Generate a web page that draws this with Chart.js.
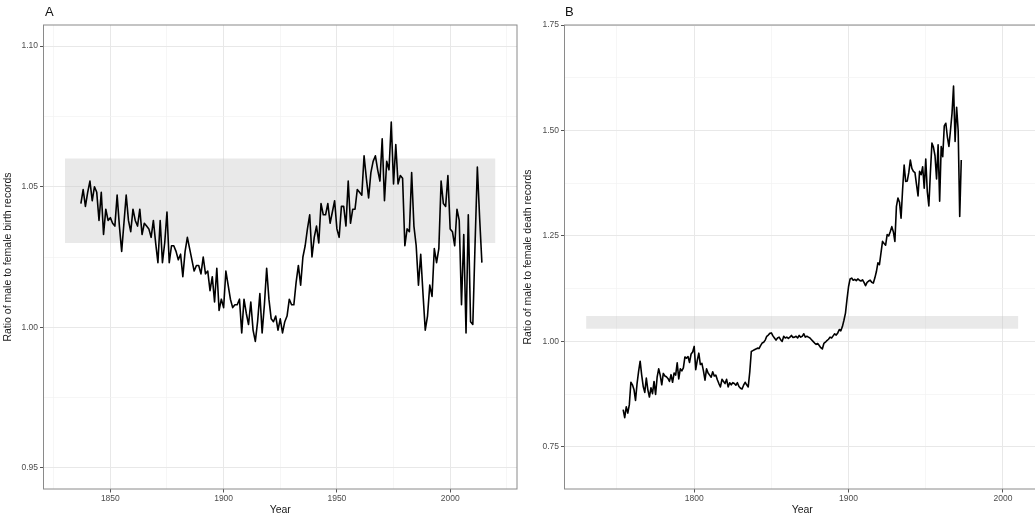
<!DOCTYPE html>
<html>
<head>
<meta charset="utf-8">
<title>Sex ratio of birth and death records</title>
<script src="https://cdn.jsdelivr.net/npm/chart.js@4/dist/chart.umd.min.js"></script>
<style>
  html, body { margin: 0; padding: 0; background: #fff; overflow: hidden; width: 1035px; height: 517px; }
  canvas { position: absolute; top: 0; }
  #birth { left: 0; }
  #death { left: 520px; }
</style>
</head>
<body>
<canvas id="birth" width="520" height="517"></canvas>
<canvas id="death" width="525" height="517"></canvas>
<script>
// ---- Panel A: yearly ratio of male to female birth records, 1837-2014 ----
const birthFirstYear = 1837;
const birthRatios = [
  1.044, 1.049, 1.043, 1.048, 1.052, 1.045, 1.050, 1.048, 1.038, 1.048,
  1.033, 1.042, 1.038, 1.039, 1.037, 1.036, 1.047, 1.036, 1.027, 1.037,
  1.047, 1.038, 1.034, 1.042, 1.038, 1.036, 1.042, 1.033, 1.037, 1.036,
  1.035, 1.032, 1.038, 1.030, 1.023, 1.038, 1.023, 1.030, 1.041, 1.023,
  1.029, 1.029, 1.027, 1.024, 1.026, 1.018, 1.027, 1.032, 1.028, 1.024,
  1.020, 1.022, 1.022, 1.019, 1.025, 1.019, 1.020, 1.013, 1.018, 1.009,
  1.021, 1.006, 1.010, 1.007, 1.020, 1.015, 1.010, 1.007, 1.008, 1.008,
  1.010, 0.998, 1.010, 1.005, 1.001, 1.009, 0.999, 0.995, 1.002, 1.012,
  0.998, 1.008, 1.021, 1.010, 1.003, 1.002, 1.004, 0.999, 1.003, 0.998,
  1.002, 1.004, 1.010, 1.008, 1.008, 1.016, 1.022, 1.015, 1.025, 1.029,
  1.035, 1.040, 1.025, 1.032, 1.036, 1.030, 1.044, 1.040, 1.040, 1.044,
  1.037, 1.041, 1.045, 1.035, 1.032, 1.043, 1.043, 1.036, 1.052, 1.037,
  1.042, 1.042, 1.049, 1.048, 1.047, 1.061, 1.053, 1.046, 1.055, 1.059,
  1.061, 1.056, 1.052, 1.067, 1.045, 1.059, 1.056, 1.073, 1.051, 1.065,
  1.051, 1.054, 1.053, 1.029, 1.035, 1.034, 1.055, 1.036, 1.029, 1.015,
  1.026, 1.012, 0.999, 1.004, 1.015, 1.011, 1.028, 1.023, 1.028, 1.052,
  1.044, 1.043, 1.054, 1.035, 1.034, 1.029, 1.042, 1.038, 1.008, 1.033,
  0.998, 1.040, 1.002, 1.001, 1.030, 1.057, 1.039, 1.023
];
const birthBandYears = [1830, 2020];
const birthBandRatio = [1.03, 1.06];
const birthYMajor = [0.95, 1.00, 1.05, 1.10];
const birthYMinor = [0.975, 1.025, 1.075];
const birthXMajor = [1850, 1900, 1950, 2000];
const birthXMinor = [1825, 1875, 1925, 1975, 2025];

// ---- Panel B: yearly ratio of male to female death records, 1754-1973 ----
const deathFirstYear = 1754;
const deathRatios = [
  0.838, 0.819, 0.845, 0.830, 0.850, 0.903, 0.897, 0.886, 0.860, 0.900,
  0.929, 0.953, 0.920, 0.893, 0.879, 0.913, 0.885, 0.868, 0.890, 0.876,
  0.905, 0.874, 0.915, 0.935, 0.920, 0.897, 0.924, 0.918, 0.916, 0.912,
  0.905, 0.921, 0.903, 0.925, 0.920, 0.949, 0.911, 0.935, 0.930, 0.937,
  0.963, 0.960, 0.964, 0.950, 0.970, 0.975, 0.988, 0.933, 0.955, 0.972,
  0.945, 0.948, 0.930, 0.908, 0.935, 0.925, 0.920, 0.915, 0.928, 0.918,
  0.920, 0.909, 0.900, 0.892, 0.910, 0.905, 0.900, 0.910, 0.892, 0.902,
  0.897, 0.902, 0.900, 0.896, 0.902, 0.893, 0.889, 0.887, 0.896, 0.903,
  0.897, 0.892, 0.927, 0.976, 0.978, 0.980, 0.982, 0.984, 0.983, 0.990,
  0.996, 0.998, 1.003, 1.012, 1.015, 1.019, 1.020, 1.013, 1.008, 1.003,
  1.008, 1.010, 1.004, 1.000, 1.012, 1.008, 1.010, 1.007, 1.010, 1.014,
  1.009, 1.010, 1.012, 1.008, 1.014, 1.010, 1.012, 1.018, 1.010, 1.012,
  1.010, 1.008, 1.004, 1.000, 0.996, 0.993, 0.995, 0.990, 0.985, 0.982,
  0.995, 0.998, 1.002, 1.005, 1.010, 1.008, 1.013, 1.018, 1.015, 1.020,
  1.028, 1.025, 1.035, 1.050, 1.067, 1.100, 1.130, 1.148, 1.150, 1.145,
  1.147, 1.144, 1.148, 1.145, 1.143, 1.146, 1.140, 1.132, 1.140, 1.143,
  1.145, 1.140, 1.138, 1.150, 1.165, 1.186, 1.182, 1.210, 1.237, 1.232,
  1.228, 1.253, 1.250, 1.260, 1.272, 1.260, 1.237, 1.320, 1.340, 1.330,
  1.292, 1.360, 1.418, 1.379, 1.380, 1.400, 1.430, 1.410, 1.403, 1.400,
  1.372, 1.345, 1.403, 1.395, 1.414, 1.363, 1.432, 1.355, 1.321, 1.400,
  1.470, 1.460, 1.440, 1.385, 1.466, 1.332, 1.462, 1.438, 1.511, 1.517,
  1.485, 1.462, 1.500, 1.540, 1.605, 1.474, 1.555, 1.500, 1.296, 1.430
];
const deathBandYears = [1730, 2010];
const deathBandRatio = [1.03, 1.06];
const deathYMajor = [0.75, 1.00, 1.25, 1.50, 1.75];
const deathYMinor = [0.875, 1.125, 1.375, 1.625];
const deathXMajor = [1800, 1900, 2000];
const deathXMinor = [1750, 1850, 1950];

// ---- helpers ----
const FONT = '"Liberation Sans", Arial, Helvetica, sans-serif';

function yearSeries(firstYear, values) {
  return values.map((v, i) => ({ x: firstYear + i, y: v }));
}

function isIn(list, v) {
  return list.some(m => Math.abs(m - v) < 1e-6);
}

// Linear axis with ggplot-like major (labelled) and minor (unlabelled) grid lines
function makeAxis(opts) {
  const { min, max, major, minor, fmt, title, titlePadding, size, tickPad } = opts;
  return {
    type: 'linear',
    min, max,
    afterBuildTicks(scale) {
      scale.ticks = major.concat(minor).sort((a, b) => a - b).map(v => ({ value: v }));
    },
    afterFit(scale) {
      if (scale.isHorizontal()) scale.height = size; else scale.width = size;
    },
    ticks: {
      autoSkip: false,
      maxRotation: 0,
      minRotation: 0,
      padding: tickPad,
      color: '#4d4d4d',
      font: { family: FONT, size: 8.5 },
      callback: (v) => isIn(major, v) ? fmt(v) : ''
    },
    grid: {
      drawOnChartArea: true,
      drawTicks: true,
      tickLength: 3.5,
      color: (c) => isIn(major, c.tick.value) ? '#e8e8e8' : '#f2f2f2',
      lineWidth: (c) => isIn(major, c.tick.value) ? 1 : 0.7,
      tickColor: (c) => isIn(major, c.tick.value) ? '#555555' : 'rgba(0,0,0,0)',
      tickWidth: 1
    },
    border: { display: false },
    title: {
      display: true,
      text: title,
      color: '#1a1a1a',
      font: { family: FONT, size: 10.5 },
      padding: titlePadding
    }
  };
}

// Panel frame and panel tag letter
const panelFrame = {
  id: 'panelFrame',
  afterDraw(chart, args, o) {
    const { ctx, chartArea: a } = chart;
    ctx.save();
    ctx.strokeStyle = '#8a8a8a';
    ctx.lineWidth = 1;
    ctx.strokeRect(a.left, a.top, a.right - a.left, a.bottom - a.top);
    ctx.fillStyle = '#111';
    ctx.font = '13px ' + FONT;
    ctx.textBaseline = 'middle';
    ctx.textAlign = 'left';
    ctx.fillText(o.tag, o.tagX, 12.5);
    ctx.restore();
  }
};

function makePanel(canvasId, cfg) {
  const bandTop = [{ x: cfg.bandYears[0], y: cfg.bandRatio[1] }, { x: cfg.bandYears[1], y: cfg.bandRatio[1] }];
  const bandBottom = [{ x: cfg.bandYears[0], y: cfg.bandRatio[0] }, { x: cfg.bandYears[1], y: cfg.bandRatio[0] }];
  return new Chart(document.getElementById(canvasId), {
    type: 'line',
    data: {
      datasets: [
        {
          data: cfg.series,
          borderColor: '#000000',
          borderWidth: 1.6,
          borderJoinStyle: 'round',
          pointRadius: 0,
          tension: 0,
          fill: false
        },
        {
          data: bandTop,
          borderWidth: 0,
          borderColor: 'rgba(0,0,0,0)',
          backgroundColor: 'rgba(200,200,200,0.4)',
          pointRadius: 0,
          fill: '+1'
        },
        {
          data: bandBottom,
          borderWidth: 0,
          borderColor: 'rgba(0,0,0,0)',
          pointRadius: 0,
          fill: false
        }
      ]
    },
    options: {
      responsive: false,
      devicePixelRatio: 1,
      animation: false,
      events: [],
      layout: { padding: { top: 25, right: cfg.padRight, left: 0, bottom: 0 } },
      plugins: {
        legend: { display: false },
        tooltip: { enabled: false },
        panelFrame: { tag: cfg.tag, tagX: 45 }
      },
      scales: {
        x: makeAxis({
          min: cfg.xMin, max: cfg.xMax, major: cfg.xMajor, minor: cfg.xMinor,
          fmt: v => String(v), title: 'Year', titlePadding: { top: 0, bottom: 0.7 }, size: 28, tickPad: 1
        }),
        y: makeAxis({
          min: cfg.yMin, max: cfg.yMax, major: cfg.yMajor, minor: cfg.yMinor,
          fmt: v => v.toFixed(2), title: cfg.yTitle, titlePadding: { top: 1.5, bottom: 0 }, size: cfg.ySize, tickPad: 2
        })
      }
    },
    plugins: [panelFrame]
  });
}

makePanel('birth', {
  tag: 'A',
  series: yearSeries(birthFirstYear, birthRatios),
  bandYears: birthBandYears, bandRatio: birthBandRatio,
  xMin: 1820.5, xMax: 2029.5, xMajor: birthXMajor, xMinor: birthXMinor,
  yMin: 0.9425, yMax: 1.1075, yMajor: birthYMajor, yMinor: birthYMinor,
  yTitle: 'Ratio of male to female birth records',
  ySize: 43.5, padRight: 3
});

makePanel('death', {
  tag: 'B',
  series: yearSeries(deathFirstYear, deathRatios),
  bandYears: deathBandYears, bandRatio: deathBandRatio,
  xMin: 1716, xMax: 2024, xMajor: deathXMajor, xMinor: deathXMinor,
  yMin: 0.65, yMax: 1.75, yMajor: deathYMajor, yMinor: deathYMinor,
  yTitle: 'Ratio of male to female death records',
  ySize: 44.5, padRight: 5
});
</script>
</body>
</html>
